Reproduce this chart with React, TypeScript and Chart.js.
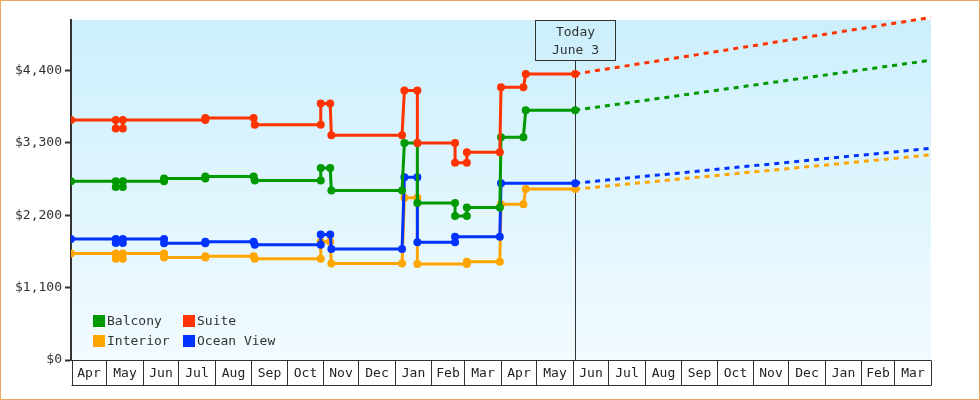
import React, { useEffect, useRef } from 'react';
import { Chart, registerables } from 'chart.js';

Chart.register(...registerables);

// ---------- data ----------
const START_DATE = '2013-04-01';
const END_DATE = '2015-04-01';
const TODAY_DATE = '2014-06-03';
const todayLabel = ['Today', 'June 3'];

const monthLabels = [
  'Apr', 'May', 'Jun', 'Jul', 'Aug', 'Sep', 'Oct', 'Nov', 'Dec', 'Jan', 'Feb', 'Mar',
  'Apr', 'May', 'Jun', 'Jul', 'Aug', 'Sep', 'Oct', 'Nov', 'Dec', 'Jan', 'Feb', 'Mar',
];

const yTickValues = [0, 1100, 2200, 3300, 4400];
const Y_MAX = 5170;

const suiteDates = [
  '2013-04-01', '2013-05-09', '2013-05-09', '2013-05-15', '2013-05-15', '2013-07-24', '2013-07-24',
  '2013-09-03', '2013-09-04', '2013-10-30', '2013-10-30', '2013-11-07', '2013-11-08', '2014-01-07',
  '2014-01-09', '2014-01-20', '2014-01-20', '2014-02-21', '2014-02-21', '2014-03-03', '2014-03-03',
  '2014-03-31', '2014-04-01', '2014-04-20', '2014-04-22', '2014-06-03',
];
const suitePrices = [
  3649, 3649, 3519, 3519, 3649, 3649, 3679,
  3679, 3579, 3579, 3899, 3899, 3419, 3419,
  4099, 4099, 3299, 3299, 2999, 2999, 3159,
  3159, 4149, 4149, 4349, 4349,
];

const balconyDates = [
  '2013-04-01', '2013-05-09', '2013-05-09', '2013-05-15', '2013-05-15', '2013-06-19', '2013-06-19',
  '2013-07-24', '2013-07-24', '2013-09-03', '2013-09-04', '2013-10-30', '2013-10-30', '2013-11-07',
  '2013-11-08', '2014-01-07', '2014-01-09', '2014-01-20', '2014-01-20', '2014-02-21', '2014-02-21',
  '2014-03-03', '2014-03-03', '2014-03-31', '2014-04-01', '2014-04-20', '2014-04-22', '2014-06-03',
];
const balconyPrices = [
  2719, 2719, 2629, 2629, 2719, 2719, 2759,
  2759, 2789, 2789, 2729, 2729, 2919, 2919,
  2579, 2579, 3299, 3299, 2389, 2389, 2189,
  2189, 2319, 2319, 3389, 3389, 3799, 3799,
];

const oceanViewDates = [
  '2013-04-01', '2013-05-09', '2013-05-09', '2013-05-15', '2013-05-15', '2013-06-19', '2013-06-19',
  '2013-07-24', '2013-07-24', '2013-09-03', '2013-09-04', '2013-10-30', '2013-10-30', '2013-11-07',
  '2013-11-08', '2014-01-07', '2014-01-09', '2014-01-20', '2014-01-20', '2014-02-21', '2014-02-21',
  '2014-03-31', '2014-04-01', '2014-06-03',
];
const oceanViewPrices = [
  1839, 1839, 1779, 1779, 1839, 1839, 1774,
  1774, 1799, 1799, 1754, 1754, 1909, 1909,
  1689, 1689, 2779, 2779, 1789, 1789, 1874,
  1874, 2689, 2689,
];

const interiorDates = [
  '2013-04-01', '2013-05-09', '2013-05-09', '2013-05-15', '2013-05-15', '2013-06-19', '2013-06-19',
  '2013-07-24', '2013-07-24', '2013-09-03', '2013-09-04', '2013-10-30', '2013-10-30', '2013-11-07',
  '2013-11-08', '2014-01-07', '2014-01-09', '2014-01-20', '2014-01-20', '2014-03-03', '2014-03-03',
  '2014-03-31', '2014-04-01', '2014-04-20', '2014-04-22', '2014-06-03',
];
const interiorPrices = [
  1619, 1619, 1539, 1539, 1619, 1619, 1559,
  1559, 1579, 1579, 1539, 1539, 1799, 1799,
  1469, 1469, 2469, 2469, 1459, 1459, 1494,
  1494, 2369, 2369, 2599, 2599,
];

// forecast values: [today, end of axis]
const suiteForecast = [4349, 5209];
const balconyForecast = [3799, 4559];
const oceanViewForecast = [2689, 3219];
const interiorForecast = [2599, 3119];

// ---------- styles ----------
const COLORS = {
  Balcony: '#009900',
  Suite: '#FF3300',
  Interior: '#FFA500',
  'Ocean View': '#0033FF',
};
const FONT = '13px "DejaVu Sans Mono", monospace';
const INK = '#333333';

const DAY_MS = 86400000;
const parseUTC = (s: string) => {
  const [y, m, d] = s.split('-').map(Number);
  return Date.UTC(y, m - 1, d);
};
const dayOf = (s: string) => Math.round((parseUTC(s) - parseUTC(START_DATE)) / DAY_MS);

const toPoints = (dates: string[], prices: number[]) =>
  dates.map((d, i) => ({ x: dayOf(d), y: prices[i] }));
const forecastPoints = (vals: number[]) => [
  { x: dayOf(TODAY_DATE), y: vals[0] },
  { x: dayOf(END_DATE), y: vals[1] },
];

const fmtMoney = (v: number) => '$' + String(v).replace(/\B(?=(\d{3})+(?!\d))/g, ',');

const decorPlugin = {
  id: 'decor',
  beforeDraw(chart: any) {
    const { ctx, chartArea: a } = chart;
    ctx.save();
    ctx.fillStyle = '#ffffff';
    ctx.fillRect(0, 0, chart.width, chart.height);
    const g = ctx.createLinearGradient(0, a.top, 0, a.bottom);
    g.addColorStop(0, '#CCEFFC');
    g.addColorStop(1, '#F2FBFF');
    ctx.fillStyle = g;
    ctx.fillRect(a.left, a.top, a.right - a.left, a.bottom - a.top);
    ctx.restore();
  },
  beforeDatasetsDraw(chart: any) {
    const { ctx, chartArea: a, scales } = chart;
    const x = Math.round(scales.x.getPixelForValue(dayOf(TODAY_DATE))) + 0.5;
    ctx.save();
    ctx.strokeStyle = INK;
    ctx.lineWidth = 1;
    ctx.beginPath();
    ctx.moveTo(x, a.top + 40);
    ctx.lineTo(x, a.bottom);
    ctx.stroke();
    ctx.restore();
  },
  afterDraw(chart: any) {
    const { ctx, chartArea: a, scales } = chart;
    const xs = scales.x;
    ctx.save();
    // month boxes
    const top = a.bottom + 0.5;
    const bot = a.bottom + 25.5;
    const start = parseUTC(START_DATE);
    const bounds: number[] = [];
    for (let i = 0; i <= monthLabels.length; i++) {
      const d = new Date(start);
      d.setUTCMonth(d.getUTCMonth() + i);
      bounds.push(Math.round((d.getTime() - start) / DAY_MS));
    }
    const px = bounds.map((b) => Math.round(xs.getPixelForValue(b)) + 0.5);
    ctx.strokeStyle = INK;
    ctx.lineWidth = 1;
    ctx.beginPath();
    ctx.moveTo(px[0], top);
    ctx.lineTo(px[px.length - 1], top);
    ctx.moveTo(px[0], bot);
    ctx.lineTo(px[px.length - 1], bot);
    px.forEach((p, i) => {
      ctx.moveTo(i === 0 ? p + 1 : p, top);
      ctx.lineTo(i === 0 ? p + 1 : p, bot);
    });
    ctx.stroke();
    ctx.fillStyle = '#222';
    ctx.font = FONT;
    ctx.textAlign = 'center';
    ctx.textBaseline = 'middle';
    monthLabels.forEach((m, i) => {
      ctx.fillText(m, (px[i] + px[i + 1]) / 2, a.bottom + 13.5);
    });

    // today box
    const tx = Math.round(xs.getPixelForValue(dayOf(TODAY_DATE))) + 0.5;
    ctx.strokeRect(tx - 40, a.top + 0.5, 80, 40);
    ctx.fillStyle = INK;
    ctx.fillText(todayLabel[0], tx, a.top + 13);
    ctx.fillText(todayLabel[1], tx, a.top + 31);

    // legend
    const items: [string, number, number][] = [
      ['Balcony', 0, 0],
      ['Suite', 1, 0],
      ['Interior', 0, 1],
      ['Ocean View', 1, 1],
    ];
    ctx.textAlign = 'left';
    items.forEach(([name, col, row]) => {
      const lx = a.left + 22 + col * 90;
      const ly = a.bottom - 45 + row * 20;
      ctx.fillStyle = (COLORS as any)[name];
      ctx.fillRect(lx, ly, 12, 12);
      ctx.fillStyle = INK;
      ctx.fillText(name, lx + 14, ly + 6.5);
    });

    // outer border
    ctx.strokeStyle = '#E8A860';
    ctx.lineWidth = 1;
    ctx.strokeRect(0.5, 0.5, chart.width - 1, chart.height - 1);
    ctx.restore();
  },
};

function lineDs(label: string, data: any[], color: string, order: number) {
  return {
    label,
    data,
    borderColor: color,
    backgroundColor: color,
    pointBackgroundColor: color,
    pointBorderColor: color,
    borderWidth: 3,
    pointRadius: 4,
    pointBorderWidth: 0,
    pointStyle: 'circle',
    tension: 0,
    order,
  };
}
function forecastDs(label: string, data: any[], color: string, order: number) {
  return {
    label,
    data,
    borderColor: color,
    backgroundColor: color,
    borderWidth: 3,
    borderDash: [5, 5],
    pointRadius: 0,
    tension: 0,
    clip: false,
    order,
  };
}

export default function App() {
  const ref = useRef<HTMLCanvasElement | null>(null);
  useEffect(() => {
    if (!ref.current) return;
    const chart = new Chart(ref.current, {
      type: 'line',
      data: {
        datasets: [
          lineDs('Suite', toPoints(suiteDates, suitePrices), COLORS.Suite, 0),
          lineDs('Balcony', toPoints(balconyDates, balconyPrices), COLORS.Balcony, 1),
          lineDs('Ocean View', toPoints(oceanViewDates, oceanViewPrices), COLORS['Ocean View'], 2),
          lineDs('Interior', toPoints(interiorDates, interiorPrices), COLORS.Interior, 3),
          forecastDs('Suite forecast', forecastPoints(suiteForecast), COLORS.Suite, 4),
          forecastDs('Balcony forecast', forecastPoints(balconyForecast), COLORS.Balcony, 5),
          forecastDs('Ocean View forecast', forecastPoints(oceanViewForecast), COLORS['Ocean View'], 6),
          forecastDs('Interior forecast', forecastPoints(interiorForecast), COLORS.Interior, 7),
        ] as any,
      },
      options: {
        responsive: false,
        animation: false,
        devicePixelRatio: 1,
        layout: { padding: { left: 0, top: 20, right: 49, bottom: 40 } },
        plugins: { legend: { display: false }, tooltip: { enabled: false } },
        events: [],
        scales: {
          x: {
            type: 'linear',
            display: false,
            min: 0,
            max: dayOf(END_DATE),
          },
          y: {
            type: 'linear',
            min: 0,
            max: Y_MAX,
            afterFit: (s: any) => {
              s.width = 71;
            },
            afterBuildTicks: (s: any) => {
              s.ticks = yTickValues.map((v) => ({ value: v }));
            },
            border: { display: true, color: INK, width: 2 },
            grid: {
              drawOnChartArea: false,
              drawTicks: true,
              tickLength: 6,
              tickWidth: 2,
              tickColor: INK,
            },
            ticks: {
              padding: 3,
              color: INK,
              font: { family: '"DejaVu Sans Mono", monospace', size: 13 },
              callback: (v: any) => fmtMoney(Number(v)),
            },
          },
        },
      } as any,
      plugins: [decorPlugin],
    });
    return () => chart.destroy();
  }, []);
  return (
    <div style={{ position: 'absolute', left: 0, top: 0, width: 980, height: 400 }}>
      <canvas ref={ref} width={980} height={400} style={{ display: 'block' }} />
    </div>
  );
}
